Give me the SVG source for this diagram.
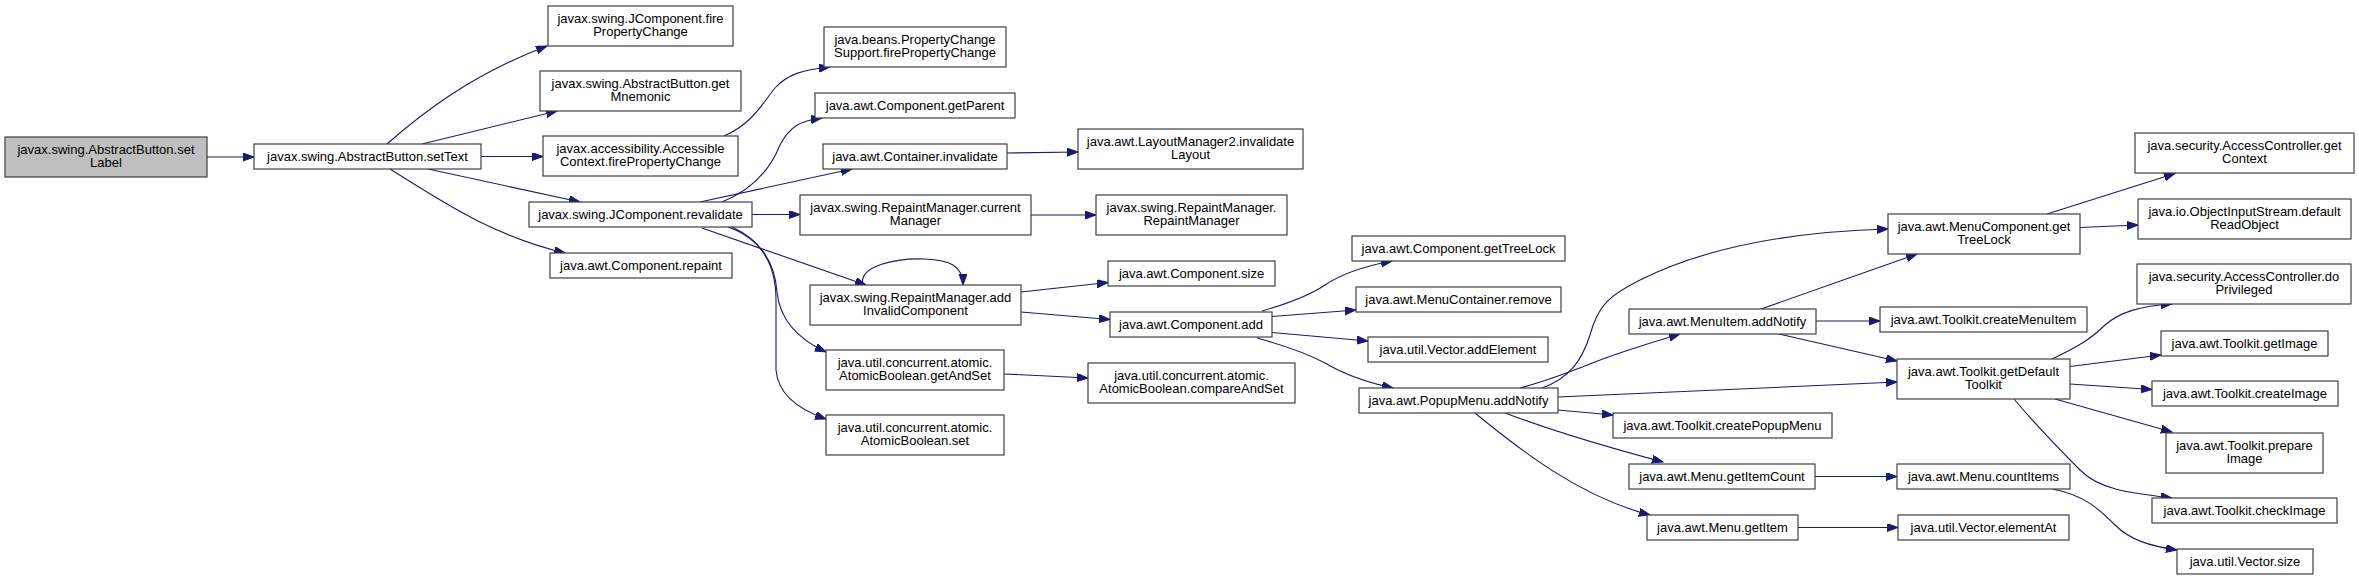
<svg xmlns="http://www.w3.org/2000/svg" width="2359" height="581" viewBox="0 0 2359 581">
<defs>
<style>
.n rect{fill:#ffffff;stroke:#404040;stroke-width:1.2}
.n.root rect{fill:#bfbfbf}
.n text{font-family:"Liberation Sans",Arial,sans-serif;font-size:13px;fill:#000;text-anchor:middle}
.e path{fill:none;stroke:#191970;stroke-width:1.1;marker-end:url(#ah)}
</style>
<marker id="ah" markerUnits="userSpaceOnUse" markerWidth="12" markerHeight="10" refX="11" refY="4" orient="auto">
<path d="M0,0 L11,4 L0,8 z" fill="#191970" stroke="#191970" stroke-width="1"/>
</marker>
</defs>
<rect width="2359" height="581" fill="#ffffff"/>
<g id="edges" class="e">
<path d="M207,157 L254,157"/>
<path d="M387,144 C420,115 470,75 547,46"/>
<path d="M422,144 L557,111"/>
<path d="M481,156.5 L543,156.5"/>
<path d="M428,169 L580,202"/>
<path d="M390,169 C440,200 490,235 565,253"/>
<path d="M724,136 C752,124 762,104 775,88 C788,74 802,70 830,67"/>
<path d="M722,202 C752,190 770,170 780,145 C790,126 800,121 822,118"/>
<path d="M700,202 L852,169"/>
<path d="M752,214.5 L800,214.5"/>
<path d="M702,228 L866,285"/>
<path d="M732,227 C760,240 775,262 777,292 C780,322 800,340 826,352"/>
<path d="M728,227 C765,240 776,270 776,300 L776,370 C778,395 800,410 826,419"/>
<path d="M1007,153 L1078,152"/>
<path d="M1031,215 L1096,215"/>
<path d="M863,285 C858,266 895,258 925,259 C950,260 963,266 963,285"/>
<path d="M1021,292 L1108,282.5"/>
<path d="M1021,312 L1110,319.5"/>
<path d="M1004,374 L1088,378"/>
<path d="M1262,311 C1290,303 1310,295 1325,285 C1340,275 1360,267 1392,261"/>
<path d="M1272,316.5 L1356,310"/>
<path d="M1272,332.5 L1368,341"/>
<path d="M1257,338 C1290,347 1310,355 1325,363 C1345,375 1365,382 1393,388"/>
<path d="M1542,388 C1570,378 1582,360 1590,335 C1598,305 1610,295 1640,280 C1700,250 1780,232 1888,229"/>
<path d="M1520,388 C1550,380 1575,370 1595,362 C1620,352 1650,343 1680,334"/>
<path d="M1558,397 L1897,382"/>
<path d="M1558,410 L1613,415"/>
<path d="M1505,413 C1550,430 1610,448 1663,462"/>
<path d="M1475,413 C1520,450 1580,497 1650,515"/>
<path d="M1761,309 L1917,254"/>
<path d="M1816,321 L1880,321"/>
<path d="M1779,334 L1897,361"/>
<path d="M2047,214 L2175,173.5"/>
<path d="M2080,227.5 L2138,225"/>
<path d="M2052,359 C2075,348 2090,340 2105,325 C2120,312 2140,306 2172,304"/>
<path d="M2070,366.5 L2161,355"/>
<path d="M2070,384 L2152,389.5"/>
<path d="M2055,399 L2172,432"/>
<path d="M2014,399 C2040,430 2060,450 2080,470 C2100,490 2130,493 2172,498"/>
<path d="M1815,476.5 L1897,476.5"/>
<path d="M1798,527.5 L1898,527.5"/>
<path d="M2052,489 C2085,495 2100,510 2115,525 C2130,540 2150,546 2177,550"/>
</g>
<g id="n0" class="n root"><rect x="5" y="137" width="202" height="40"/><text x="106" y="153.5">javax.swing.AbstractButton.set</text><text x="106" y="167">Label</text></g>
<g id="n1" class="n"><rect x="254" y="144" width="227" height="25"/><text x="367.5" y="161">javax.swing.AbstractButton.setText</text></g>
<g id="n2" class="n"><rect x="548" y="6" width="185" height="40"/><text x="640.5" y="22.5">javax.swing.JComponent.fire</text><text x="640.5" y="36">PropertyChange</text></g>
<g id="n3" class="n"><rect x="540" y="71" width="201" height="40"/><text x="640.5" y="87.5">javax.swing.AbstractButton.get</text><text x="640.5" y="101">Mnemonic</text></g>
<g id="n4" class="n"><rect x="543" y="136" width="195" height="40"/><text x="640.5" y="152.5">javax.accessibility.Accessible</text><text x="640.5" y="166">Context.firePropertyChange</text></g>
<g id="n5" class="n"><rect x="529" y="202" width="223" height="25"/><text x="640.5" y="219">javax.swing.JComponent.revalidate</text></g>
<g id="n6" class="n"><rect x="550" y="253" width="182" height="25"/><text x="641" y="270">java.awt.Component.repaint</text></g>
<g id="n7" class="n"><rect x="824" y="27" width="182" height="40"/><text x="915" y="43.5">java.beans.PropertyChange</text><text x="915" y="57">Support.firePropertyChange</text></g>
<g id="n8" class="n"><rect x="815" y="93" width="200" height="25"/><text x="915" y="110">java.awt.Component.getParent</text></g>
<g id="n9" class="n"><rect x="823" y="144" width="184" height="25"/><text x="915" y="161">java.awt.Container.invalidate</text></g>
<g id="n10" class="n"><rect x="800" y="195" width="231" height="40"/><text x="915.5" y="211.5">javax.swing.RepaintManager.current</text><text x="915.5" y="225">Manager</text></g>
<g id="n11" class="n"><rect x="810" y="285" width="211" height="40"/><text x="915.5" y="301.5">javax.swing.RepaintManager.add</text><text x="915.5" y="315">InvalidComponent</text></g>
<g id="n12" class="n"><rect x="826" y="350" width="178" height="40"/><text x="915" y="366.5">java.util.concurrent.atomic.</text><text x="915" y="380">AtomicBoolean.getAndSet</text></g>
<g id="n13" class="n"><rect x="826" y="415" width="178" height="40"/><text x="915" y="431.5">java.util.concurrent.atomic.</text><text x="915" y="445">AtomicBoolean.set</text></g>
<g id="n14" class="n"><rect x="1078" y="129" width="225" height="40"/><text x="1190.5" y="145.5">java.awt.LayoutManager2.invalidate</text><text x="1190.5" y="159">Layout</text></g>
<g id="n15" class="n"><rect x="1096" y="195" width="191" height="40"/><text x="1191.5" y="211.5">javax.swing.RepaintManager.</text><text x="1191.5" y="225">RepaintManager</text></g>
<g id="n16" class="n"><rect x="1108" y="261" width="167" height="25"/><text x="1191.5" y="278">java.awt.Component.size</text></g>
<g id="n17" class="n"><rect x="1110" y="312" width="162" height="25"/><text x="1191" y="329">java.awt.Component.add</text></g>
<g id="n18" class="n"><rect x="1088" y="363" width="207" height="40"/><text x="1191.5" y="379.5">java.util.concurrent.atomic.</text><text x="1191.5" y="393">AtomicBoolean.compareAndSet</text></g>
<g id="n19" class="n"><rect x="1352" y="236" width="213" height="25"/><text x="1458.5" y="253">java.awt.Component.getTreeLock</text></g>
<g id="n20" class="n"><rect x="1356" y="287" width="205" height="25"/><text x="1458.5" y="304">java.awt.MenuContainer.remove</text></g>
<g id="n21" class="n"><rect x="1368" y="337" width="180" height="25"/><text x="1458" y="354">java.util.Vector.addElement</text></g>
<g id="n22" class="n"><rect x="1359" y="388" width="199" height="25"/><text x="1458.5" y="405">java.awt.PopupMenu.addNotify</text></g>
<g id="n23" class="n"><rect x="1629" y="309" width="187" height="25"/><text x="1722.5" y="326">java.awt.MenuItem.addNotify</text></g>
<g id="n24" class="n"><rect x="1613" y="413" width="219" height="25"/><text x="1722.5" y="430">java.awt.Toolkit.createPopupMenu</text></g>
<g id="n25" class="n"><rect x="1629" y="464" width="186" height="25"/><text x="1722" y="481">java.awt.Menu.getItemCount</text></g>
<g id="n26" class="n"><rect x="1647" y="515" width="151" height="25"/><text x="1722.5" y="532">java.awt.Menu.getItem</text></g>
<g id="n27" class="n"><rect x="1888" y="214" width="192" height="40"/><text x="1984" y="230.5">java.awt.MenuComponent.get</text><text x="1984" y="244">TreeLock</text></g>
<g id="n28" class="n"><rect x="1880" y="307" width="207" height="25"/><text x="1983.5" y="324">java.awt.Toolkit.createMenuItem</text></g>
<g id="n29" class="n"><rect x="1897" y="359" width="173" height="40"/><text x="1983.5" y="375.5">java.awt.Toolkit.getDefault</text><text x="1983.5" y="389">Toolkit</text></g>
<g id="n30" class="n"><rect x="1897" y="464" width="173" height="25"/><text x="1983.5" y="481">java.awt.Menu.countItems</text></g>
<g id="n31" class="n"><rect x="1898" y="515" width="171" height="25"/><text x="1983.5" y="532">java.util.Vector.elementAt</text></g>
<g id="n32" class="n"><rect x="2135" y="133" width="219" height="40"/><text x="2244.5" y="149.5">java.security.AccessController.get</text><text x="2244.5" y="163">Context</text></g>
<g id="n33" class="n"><rect x="2138" y="199" width="213" height="40"/><text x="2244.5" y="215.5">java.io.ObjectInputStream.default</text><text x="2244.5" y="229">ReadObject</text></g>
<g id="n34" class="n"><rect x="2137" y="264" width="214" height="40"/><text x="2244" y="280.5">java.security.AccessController.do</text><text x="2244" y="294">Privileged</text></g>
<g id="n35" class="n"><rect x="2161" y="331" width="167" height="25"/><text x="2244.5" y="348">java.awt.Toolkit.getImage</text></g>
<g id="n36" class="n"><rect x="2152" y="381" width="186" height="25"/><text x="2245" y="398">java.awt.Toolkit.createImage</text></g>
<g id="n37" class="n"><rect x="2166" y="433" width="157" height="40"/><text x="2244.5" y="449.5">java.awt.Toolkit.prepare</text><text x="2244.5" y="463">Image</text></g>
<g id="n38" class="n"><rect x="2152" y="498" width="185" height="25"/><text x="2244.5" y="515">java.awt.Toolkit.checkImage</text></g>
<g id="n39" class="n"><rect x="2177" y="549" width="136" height="25"/><text x="2245" y="566">java.util.Vector.size</text></g>
</svg>
